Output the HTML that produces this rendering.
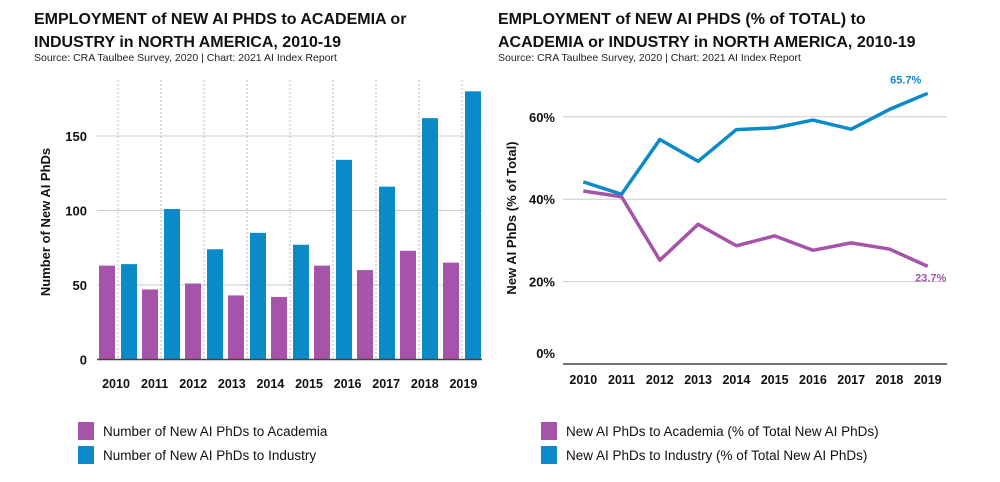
<!DOCTYPE html>
<html><head><meta charset="utf-8">
<style>
html,body{margin:0;padding:0;background:#fff;}
body{width:1000px;height:482px;position:relative;overflow:hidden;font-family:"Liberation Sans",sans-serif;color:#111;}
.title{position:absolute;font-weight:bold;font-size:16px;line-height:23px;margin:0;}
.src{position:absolute;font-size:10.5px;color:#222;}
.leg{position:absolute;font-size:13.5px;color:#111;display:flex;align-items:center;}
.sw{width:16px;height:18px;margin-right:9px;}
svg{position:absolute;left:0;top:0;}
</style></head>
<body>
<div class="title" style="left:34px;top:8px;">EMPLOYMENT of NEW AI PHDS to ACADEMIA or<br>INDUSTRY in NORTH AMERICA, 2010-19</div>
<div class="src" style="left:34px;top:52px;">Source: CRA Taulbee Survey, 2020 | Chart: 2021 AI Index Report</div>
<div class="title" style="left:498px;top:8px;">EMPLOYMENT of NEW AI PHDS (% of TOTAL) to<br>ACADEMIA or INDUSTRY in NORTH AMERICA, 2010-19</div>
<div class="src" style="left:498px;top:52px;">Source: CRA Taulbee Survey, 2020 | Chart: 2021 AI Index Report</div>

<svg id="chart" width="1000" height="482"></svg>

<div class="leg" style="left:78px;top:422px;"><div class="sw" style="background:#a653aa"></div>Number of New AI PhDs to Academia</div>
<div class="leg" style="left:78px;top:446px;"><div class="sw" style="background:#0b8ac9"></div>Number of New AI PhDs to Industry</div>
<div class="leg" style="left:541px;top:422px;"><div class="sw" style="background:#a653aa"></div>New AI PhDs to Academia (% of Total New AI PhDs)</div>
<div class="leg" style="left:541px;top:446px;"><div class="sw" style="background:#0b8ac9"></div>New AI PhDs to Industry (% of Total New AI PhDs)</div>

<script>
const years = ["2010","2011","2012","2013","2014","2015","2016","2017","2018","2019"];
const academiaCount = [63,47,51,43,42,63,60,73,65];
const industryCount = [64,101,74,85,77,134,116,162,180];
const countTicks = [0,50,100,150];
const academiaPct = [42.0,40.6,25.2,33.9,28.7,31.1,27.6,29.4,27.9,23.7];
const industryPct = [44.2,41.2,54.5,49.2,56.9,57.3,59.2,57.0,61.8,65.7];
const pctTicks = [0,20,40,60];

const NS="http://www.w3.org/2000/svg";
const svg=document.getElementById('chart');
function mk(tag,attrs,parent){const e=document.createElementNS(NS,tag);for(const k in attrs)e.setAttribute(k,attrs[k]);(parent||svg).appendChild(e);return e;}
const PURPLE="#a653aa", BLUE="#0b8ac9";

// ---- left bar chart ----
const L={x0:97,x1:482,yBase:359.5,pxPerUnit:1.49};
const yL=v=>L.yBase-v*L.pxPerUnit;
const groupX=i=>118+43*i;
const labelX=i=>116+38.6*i;
countTicks.forEach(t=>{
  if(t>0){const g=mk('line',{x1:L.x0,x2:L.x1,y1:yL(t),y2:yL(t),stroke:"#ccc","stroke-width":1});
  
  }
  const tx=mk('text',{x:87,y:yL(t)+5,"text-anchor":"end","font-size":13,"font-weight":"bold",fill:"#111"});
  tx.textContent=t;
  
  
});
academiaCount.forEach((v,i)=>{
  const d=mk('line',{x1:groupX(i),x2:groupX(i),y1:80,y2:L.yBase,stroke:"#bbb","stroke-width":1,"stroke-dasharray":"2,2"});
  
  
});
academiaCount.forEach((v,i)=>{
  const r=mk('rect',{x:groupX(i)-19,y:yL(v),width:16,height:v*L.pxPerUnit,fill:PURPLE});
  
  
});
industryCount.forEach((v,i)=>{
  const r=mk('rect',{x:groupX(i)+3,y:yL(v),width:16,height:v*L.pxPerUnit,fill:BLUE});
  
  
});
const bl=mk('line',{x1:L.x0,x2:L.x1,y1:L.yBase,y2:L.yBase,stroke:"#444","stroke-width":1.5});


years.forEach((y,i)=>{
  const tx=mk('text',{x:labelX(i),y:388,"text-anchor":"middle","font-size":12.5,"font-weight":"bold",fill:"#111"});
  tx.textContent=y;
  
  
});
const yt=mk('text',{x:0,y:0,transform:"translate(50,222) rotate(-90)","text-anchor":"middle","font-size":13,"font-weight":"bold",fill:"#111"});
yt.textContent="Number of New AI PhDs";



// ---- right line chart ----
const R={x0:563,x1:947,yBase:364,pxPerUnit:4.12};
const yR=v=>R.yBase-v*R.pxPerUnit;
const xR=i=>583.3+38.27*i;
pctTicks.forEach(t=>{
  if(t>0){const g=mk('line',{x1:R.x0,x2:R.x1,y1:yR(t),y2:yR(t),stroke:"#ccc","stroke-width":1});
  
  }
  const tx=mk('text',{x:555,y:yR(t)-(t===0?6:-5),"text-anchor":"end","font-size":13,"font-weight":"bold",fill:"#111"});
  tx.textContent=t+"%";
  
  
});
const rb=mk('line',{x1:R.x0,x2:R.x1,y1:R.yBase,y2:R.yBase,stroke:"#444","stroke-width":1.5});


years.forEach((y,i)=>{
  const tx=mk('text',{x:xR(i),y:384,"text-anchor":"middle","font-size":12.5,"font-weight":"bold",fill:"#111"});
  tx.textContent=y;
  
  
});
function line(arr,color,name){
  const p=mk('polyline',{points:arr.map((v,i)=>xR(i)+","+yR(v)).join(" "),fill:"none",stroke:color,"stroke-width":3.5,"stroke-linejoin":"round"});
  
  
}
line(industryPct,BLUE,'line-industry-pct');
line(academiaPct,PURPLE,'line-academia-pct');
const lb1=mk('text',{x:xR(9)-22,y:yR(industryPct[9])-10,"text-anchor":"middle","font-size":11,"font-weight":"bold",fill:BLUE});
lb1.textContent=industryPct[9].toFixed(1)+"%";


const lb2=mk('text',{x:xR(9)+3,y:yR(academiaPct[9])+15,"text-anchor":"middle","font-size":11,"font-weight":"bold",fill:PURPLE});
lb2.textContent=academiaPct[9].toFixed(1)+"%";


const yt2=mk('text',{x:0,y:0,transform:"translate(516,218) rotate(-90)","text-anchor":"middle","font-size":13,"font-weight":"bold",fill:"#111"});
yt2.textContent="New AI PhDs (% of Total)";


</script>
</body></html>
